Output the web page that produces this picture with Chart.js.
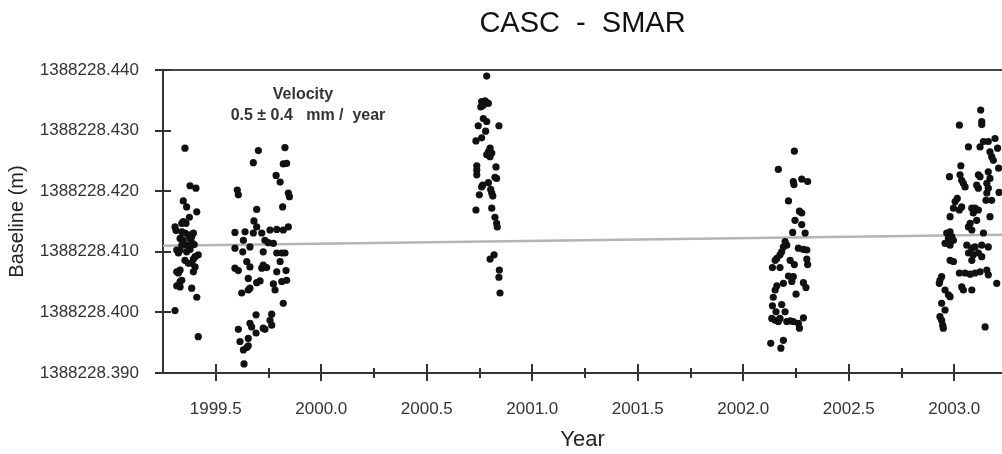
<!DOCTYPE html>
<html><head><meta charset="utf-8">
<script src="https://cdn.jsdelivr.net/npm/chart.js@4/dist/chart.umd.min.js"></script>
<style>html,body{margin:0;padding:0;background:#fff;}#wrap{width:1002px;height:454px;}</style>
</head><body><div id="wrap"><canvas id="c" width="1002" height="454"></canvas></div>
<script>
const CHART_TITLE = 'CASC  -  SMAR';
const X_TITLE = 'Year';
const Y_TITLE = 'Baseline (m)';
const NOTE_LINES = ['Velocity', '0.5 \u00B1 0.4   mm /  year'];

const X_MIN = 1999.25, X_MAX = 2003.226;
const Y_MIN = 1388228.390, Y_MAX = 1388228.440;
const X_TICKS = [1999.5, 2000.0, 2000.5, 2001.0, 2001.5, 2002.0, 2002.5, 2003.0];
const X_MINOR_TICKS = [1999.75, 2000.25, 2000.75, 2001.25, 2001.75, 2002.25, 2002.75];
const Y_TICKS = [1388228.390, 1388228.400, 1388228.410, 1388228.420, 1388228.430, 1388228.440];

// Campaign 1 (1999.3-1999.4)
const C1_YEAR = [1999.354,1999.378,1999.406,1999.346,1999.362,1999.410,1999.375,1999.346,1999.359,1999.307,1999.312,1999.339,1999.354,1999.394,1999.331,1999.346,1999.378,1999.386,1999.339,1999.359,1999.315,1999.378,1999.323,1999.417,1999.402,1999.354,1999.394,1999.370,1999.386,1999.402,1999.394,1999.331,1999.323,1999.331,1999.315,1999.331,1999.386,1999.410,1999.307,1999.417,1999.339,1999.386,1999.331,1999.315,1999.339,1999.362,1999.370,1999.398];
const C1_BASE = [1388228.4271,1388228.4209,1388228.4205,1388228.4184,1388228.4174,1388228.4166,1388228.4157,1388228.4150,1388228.4147,1388228.4141,1388228.4135,1388228.4133,1388228.4131,1388228.4131,1388228.4122,1388228.4119,1388228.4122,1388228.4115,1388228.4111,1388228.4111,1388228.4103,1388228.4104,1388228.4098,1388228.4095,1388228.4092,1388228.4086,1388228.4088,1388228.4081,1388228.4081,1388228.4075,1388228.4067,1388228.4070,1388228.4065,1388228.4051,1388228.4044,1388228.4042,1388228.4040,1388228.4025,1388228.4003,1388228.3960,1388228.4147,1388228.4125,1388228.4103,1388228.4067,1388228.4053,1388228.4100,1388228.4128,1388228.4112];

// Campaign 2 (1999.6-1999.85)
const C2_YEAR = [1999.702,1999.828,1999.678,1999.820,1999.836,1999.786,1999.805,1999.602,1999.607,1999.844,1999.849,1999.694,1999.817,1999.681,1999.591,1999.639,1999.694,1999.678,1999.718,1999.757,1999.789,1999.820,1999.844,1999.631,1999.733,1999.749,1999.773,1999.591,1999.628,1999.662,1999.725,1999.789,1999.813,1999.828,1999.647,1999.805,1999.591,1999.607,1999.662,1999.725,1999.741,1999.718,1999.789,1999.833,1999.654,1999.710,1999.694,1999.773,1999.813,1999.836,1999.623,1999.654,1999.662,1999.781,1999.820,1999.691,1999.765,1999.662,1999.670,1999.757,1999.765,1999.607,1999.725,1999.733,1999.615,1999.654,1999.691,1999.631,1999.647,1999.654,1999.634];
const C2_BASE = [1388228.4267,1388228.4272,1388228.4247,1388228.4245,1388228.4246,1388228.4226,1388228.4215,1388228.4202,1388228.4194,1388228.4197,1388228.4191,1388228.4170,1388228.4174,1388228.4151,1388228.4132,1388228.4133,1388228.4141,1388228.4131,1388228.4131,1388228.4136,1388228.4137,1388228.4136,1388228.4141,1388228.4119,1388228.4119,1388228.4115,1388228.4114,1388228.4106,1388228.4100,1388228.4108,1388228.4100,1388228.4098,1388228.4098,1388228.4098,1388228.4084,1388228.4084,1388228.4073,1388228.4069,1388228.4075,1388228.4078,1388228.4074,1388228.4073,1388228.4067,1388228.4069,1388228.4056,1388228.4052,1388228.4049,1388228.4047,1388228.4051,1388228.4053,1388228.4032,1388228.4037,1388228.4040,1388228.4037,1388228.4015,1388228.3996,1388228.3997,1388228.3982,1388228.3976,1388228.3987,1388228.3979,1388228.3972,1388228.3974,1388228.3972,1388228.3952,1388228.3957,1388228.3966,1388228.3938,1388228.3942,1388228.3945,1388228.3915];

// Campaign 3 (2000.73-2000.85)
const C3_YEAR = [2000.784,2000.760,2000.776,2000.784,2000.768,2000.756,2000.792,2000.768,2000.784,2000.744,2000.842,2000.779,2000.760,2000.733,2000.800,2000.792,2000.808,2000.800,2000.784,2000.828,2000.737,2000.737,2000.737,2000.823,2000.831,2000.792,2000.765,2000.760,2000.803,2000.808,2000.813,2000.749,2000.808,2000.733,2000.823,2000.831,2000.834,2000.819,2000.800,2000.844,2000.842,2000.847];
const C3_BASE = [1388228.4390,1388228.4348,1388228.4349,1388228.4346,1388228.4342,1388228.4339,1388228.4345,1388228.4320,1388228.4315,1388228.4308,1388228.4308,1388228.4299,1388228.4288,1388228.4283,1388228.4271,1388228.4265,1388228.4263,1388228.4257,1388228.4260,1388228.4240,1388228.4242,1388228.4235,1388228.4227,1388228.4223,1388228.4221,1388228.4214,1388228.4210,1388228.4207,1388228.4203,1388228.4197,1388228.4192,1388228.4194,1388228.4172,1388228.4169,1388228.4157,1388228.4147,1388228.4141,1388228.4095,1388228.4088,1388228.4070,1388228.4058,1388228.4032];

// Campaign 4 (2002.13-2002.31)
const C4_YEAR = [2002.242,2002.166,2002.237,2002.240,2002.277,2002.305,2002.214,2002.266,2002.277,2002.245,2002.277,2002.234,2002.293,2002.198,2002.206,2002.261,2002.285,2002.301,2002.182,2002.174,2002.159,2002.151,2002.222,2002.242,2002.301,2002.305,2002.138,2002.174,2002.214,2002.230,2002.190,2002.285,2002.297,2002.159,2002.151,2002.142,2002.250,2002.138,2002.182,2002.155,2002.198,2002.135,2002.151,2002.166,2002.174,2002.206,2002.222,2002.237,2002.261,2002.285,2002.266,2002.130,2002.190,2002.178,2002.190,2002.237];
const C4_BASE = [1388228.4266,1388228.4236,1388228.4216,1388228.4211,1388228.4220,1388228.4216,1388228.4184,1388228.4167,1388228.4164,1388228.4152,1388228.4145,1388228.4132,1388228.4131,1388228.4117,1388228.4111,1388228.4106,1388228.4104,1388228.4103,1388228.4100,1388228.4095,1388228.4089,1388228.4086,1388228.4086,1388228.4079,1388228.4088,1388228.4079,1388228.4074,1388228.4074,1388228.4060,1388228.4051,1388228.4048,1388228.4049,1388228.4041,1388228.4044,1388228.4037,1388228.4025,1388228.4030,1388228.4011,1388228.4013,1388228.4001,1388228.4001,1388228.3990,1388228.3987,1388228.3985,1388228.3990,1388228.3985,1388228.3986,1388228.3985,1388228.3982,1388228.3991,1388228.3974,1388228.3949,1388228.3954,1388228.3941,1388228.4108,1388228.4059];

// Campaign 5 (2002.93-2003.22)
const C5_YEAR = [2003.125,2003.024,2003.130,2003.130,2003.067,2003.122,2003.138,2003.161,2003.193,2003.169,2003.177,2003.185,2003.031,2002.977,2003.027,2003.035,2003.043,2003.051,2003.114,2003.122,2003.161,2003.169,2003.154,2003.161,2003.106,2003.114,2003.154,2003.150,2003.177,2003.014,2003.004,2002.996,2003.035,2003.024,2003.083,2003.098,2003.114,2003.090,2003.106,2002.980,2003.169,2003.075,2003.067,2003.083,2002.964,2002.980,2002.988,2002.972,2002.996,2002.956,2002.980,2003.138,2003.059,2003.083,2003.098,2003.130,2003.161,2003.067,2003.090,2003.114,2003.130,2002.980,2002.996,2003.083,2003.122,2003.154,2003.161,2003.098,2003.024,2003.051,2003.075,2002.932,2002.940,2002.929,2003.201,2003.035,2003.043,2003.083,2002.956,2002.972,2002.980,2002.940,2002.956,2002.932,2002.940,2002.945,2002.948,2003.146,2003.205,2003.210,2003.212];
const C5_BASE = [1388228.4334,1388228.4309,1388228.4315,1388228.4310,1388228.4273,1388228.4273,1388228.4282,1388228.4282,1388228.4287,1388228.4265,1388228.4257,1388228.4251,1388228.4242,1388228.4224,1388228.4227,1388228.4218,1388228.4213,1388228.4207,1388228.4227,1388228.4224,1388228.4232,1388228.4221,1388228.4213,1388228.4205,1388228.4210,1388228.4205,1388228.4197,1388228.4185,1388228.4185,1388228.4188,1388228.4183,1388228.4172,1388228.4174,1388228.4169,1388228.4172,1388228.4172,1388228.4169,1388228.4164,1388228.4152,1388228.4158,1388228.4158,1388228.4147,1388228.4141,1388228.4136,1388228.4131,1388228.4133,1388228.4125,1388228.4122,1388228.4119,1388228.4114,1388228.4111,1388228.4131,1388228.4111,1388228.4106,1388228.4108,1388228.4111,1388228.4108,1388228.4098,1388228.4095,1388228.4098,1388228.4092,1388228.4086,1388228.4084,1388228.4086,1388228.4067,1388228.4070,1388228.4062,1388228.4065,1388228.4065,1388228.4065,1388228.4063,1388228.4053,1388228.4059,1388228.4048,1388228.4048,1388228.4042,1388228.4037,1388228.4037,1388228.4037,1388228.4029,1388228.4026,1388228.4015,1388228.4004,1388228.3993,1388228.3987,1388228.3979,1388228.3974,1388228.3976,1388228.4271,1388228.4238,1388228.4198];

// Linear velocity fit
const TREND_YEAR = [1999.25, 2003.226];
const TREND_BASE = [1388228.4110, 1388228.4128];

const FONT = '"Liberation Sans", Arial, Helvetica, sans-serif';

function pairs(xs, ys) { return xs.map((x, i) => ({x: x, y: ys[i]})); }
const obs = [].concat(
  pairs(C1_YEAR, C1_BASE), pairs(C2_YEAR, C2_BASE), pairs(C3_YEAR, C3_BASE),
  pairs(C4_YEAR, C4_BASE), pairs(C5_YEAR, C5_BASE));

const tickPlugin = {
  id: 'crossTicks',
  afterDraw(chart) {
    const ctx = chart.ctx, xs = chart.scales.x, ys = chart.scales.y, a = chart.chartArea;
    ctx.save();
    ctx.strokeStyle = '#333'; ctx.lineWidth = 2;
    ctx.beginPath();
    X_TICKS.forEach(v => { const p = Math.round(xs.getPixelForValue(v)); ctx.moveTo(p, a.bottom - 9); ctx.lineTo(p, a.bottom + 8); });
    X_MINOR_TICKS.forEach(v => { const p = Math.round(xs.getPixelForValue(v)); ctx.moveTo(p, a.bottom - 5); ctx.lineTo(p, a.bottom + 5); });
    Y_TICKS.forEach(v => { const p = Math.round(ys.getPixelForValue(v)); ctx.moveTo(a.left - 8, p); ctx.lineTo(a.left + 8, p); });
    ctx.stroke();
    // velocity note
    ctx.fillStyle = '#333';
    ctx.font = 'bold 16px ' + FONT;
    ctx.textAlign = 'center'; ctx.textBaseline = 'middle';
    ctx.fillText(NOTE_LINES[0], a.left + 140, a.top + 25);
    ctx.fillText(NOTE_LINES[1], a.left + 145, a.top + 46);
    ctx.restore();
  }
};

new Chart(document.getElementById('c'), {
  data: {
    datasets: [
      { type: 'scatter', label: 'Baseline', data: obs, pointRadius: 3.6, pointBackgroundColor: '#111', pointBorderWidth: 0, pointBorderColor: '#111' },
      { type: 'line', label: 'Trend', data: pairs(TREND_YEAR, TREND_BASE), borderColor: '#b4b4b4', borderWidth: 2.5, pointRadius: 0, fill: false, tension: 0 }
    ]
  },
  options: {
    responsive: false, animation: false, devicePixelRatio: 1,
    layout: { padding: 0, autoPadding: false },
    plugins: { legend: { display: false }, title: { display: false }, tooltip: { enabled: false } },
    scales: {
      x: {
        type: 'linear', position: 'bottom', min: X_MIN, max: X_MAX,
        afterBuildTicks: s => { s.ticks = X_TICKS.map(v => ({ value: v })); },
        afterFit: s => { s.height = 81; s.paddingLeft = 0; s.paddingRight = 0; },
        grid: { display: false },
        border: { display: true, color: '#333', width: 2 },
        ticks: { autoSkip: false, maxRotation: 0, padding: 18, color: '#333', font: { family: FONT, size: 17 }, callback: v => Number(v).toFixed(1) },
        title: { display: true, text: X_TITLE, color: '#222', font: { family: FONT, size: 22 }, padding: { top: 0, bottom: 1 } }
      },
      xTop: {
        type: 'linear', position: 'top', min: X_MIN, max: X_MAX,
        afterFit: s => { s.height = 70; s.paddingLeft = 0; s.paddingRight = 0; },
        grid: { display: false },
        ticks: { display: false },
        border: { display: true, color: '#444', width: 2 },
        title: { display: true, text: CHART_TITLE, color: '#111', font: { family: FONT, size: 29 }, padding: { top: 7, bottom: 0 } }
      },
      y: {
        type: 'linear', position: 'left', min: Y_MIN, max: Y_MAX,
        afterBuildTicks: s => { s.ticks = Y_TICKS.map(v => ({ value: v })); },
        afterFit: s => { s.width = 163; },
        grid: { display: false },
        border: { display: true, color: '#333', width: 2 },
        ticks: { autoSkip: false, padding: 16, color: '#333', font: { family: FONT, size: 17 }, callback: v => Number(v).toFixed(3) },
        title: { display: true, text: Y_TITLE, color: '#222', font: { family: FONT, size: 20 }, padding: { top: 5, bottom: 0 } }
      }
    }
  },
  plugins: [tickPlugin]
});
</script></body></html>
